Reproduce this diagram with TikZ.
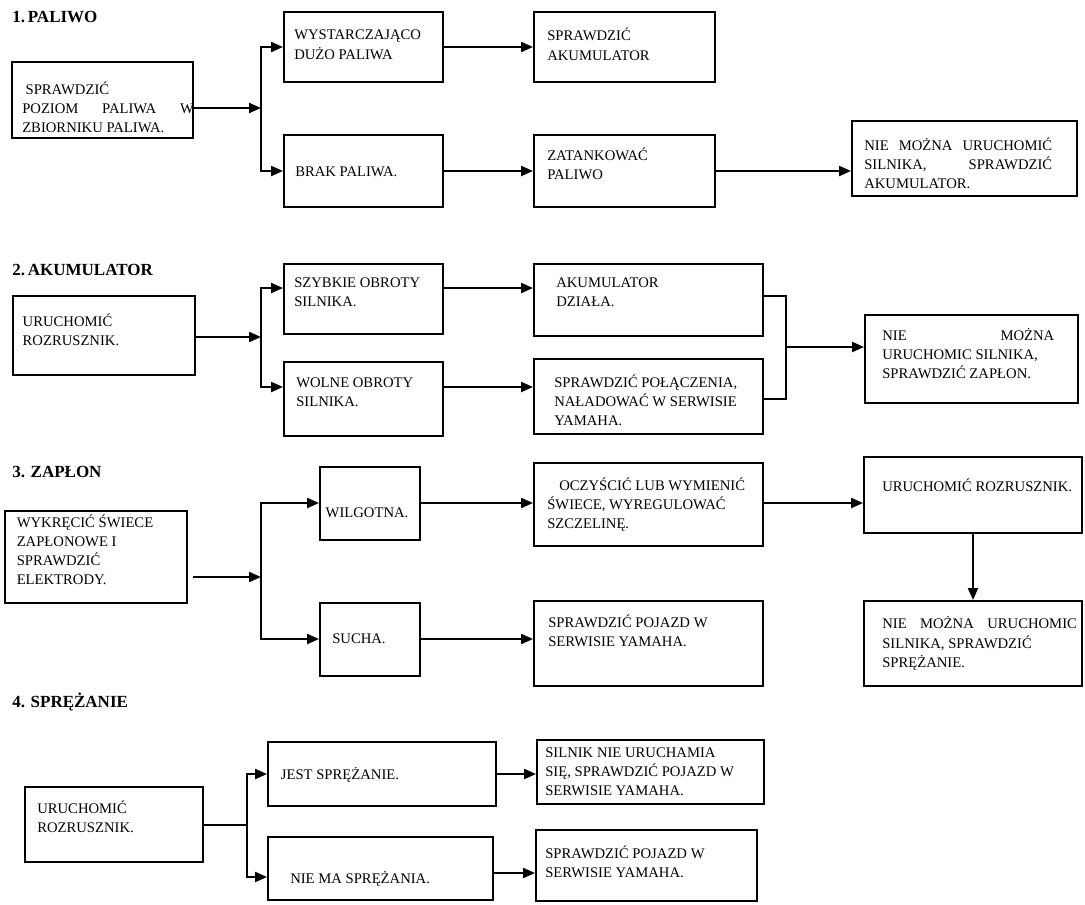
\documentclass[tikz,border=0pt]{standalone}
\usepackage{fontspec}
\setmainfont{Liberation Serif}
\usetikzlibrary{arrows.meta,fit}
\begin{document}
\begin{tikzpicture}[x=0.75pt,y=-0.75pt,
  box/.style={draw, line width=1.45pt, inner sep=0pt},
  txt/.style={anchor=north west, inner sep=0pt, align=left, font=\fontsize{11}{14.4}\selectfont, execute at begin node=\strut},
  ttl/.style={anchor=base west, inner sep=0pt, font=\bfseries\fontsize{12.75}{15}\selectfont},
  conn/.style={line width=1.6pt, -{Triangle[length=9pt,width=7.5pt]}},
  wire/.style={line width=1.6pt},
  thinwire/.style={line width=0.8pt}]
\useasboundingbox (0,0) rectangle (1085,904);
% ---------- 1. PALIWO ----------
\node[ttl] (T1) at (12,22) {1.\,PALIWO};
\node[box, fit={(12,62) (193,138)}] (A1) {};
\node[txt] (A1t) at (22,81.5) {\hspace*{2.5pt}SPRAWDZIĆ\\\hbox to 128.7pt{POZIOM\hfill PALIWA\hfill W}\\ZBIORNIKU PALIWA.};
\node[box, fit={(284,12) (443,82)}] (B1) {};
\node[txt] (B1t) at (294,30) {WYSTARCZAJĄCO\\DUŻO PALIWA};
\node[box, fit={(284,135) (443,207)}] (C1) {};
\node[txt] (C1t) at (295,162.5) {BRAK PALIWA.};
\node[box, fit={(534,12) (715,82)}] (D1) {};
\node[txt] (D1t) at (547,28) {SPRAWDZIĆ\\AKUMULATOR};
\node[box, fit={(534,135) (715,207)}] (E1) {};
\node[txt] (E1t) at (547,147.5) {ZATANKOWAĆ\\PALIWO};
\node[box, fit={(852,121) (1077,196)}] (F1) {};
\node[txt] (F1t) at (864,137.5) {\hbox to 141pt{NIE\hfill MOŻNA\hfill URUCHOMIĆ}\\\hbox to 141pt{SILNIKA,\hfill SPRAWDZIĆ}\\AKUMULATOR.};
\coordinate (J1) at (261,108);
\coordinate (J1t) at (261,47);
\draw[conn] (A1.east|-J1) -- (J1);
\draw[conn] (J1) |- (B1.west|-J1t);
\draw[conn] (J1) |- (C1.west);
\draw[conn] (B1.east|-J1t) -- (D1.west|-J1t);
\draw[conn] (C1.east) -- (E1.west);
\draw[conn] (E1.east) -- (F1.west|-E1.east);
% ---------- 2. AKUMULATOR ----------
\node[ttl] (T2) at (12,275) {2.\,AKUMULATOR};
\node[box, fit={(13,296) (195,375)}] (A2) {};
\node[txt] (A2t) at (22.4,313.5) {URUCHOMIĆ\\ROZRUSZNIK.};
\node[box, fit={(284,264) (443,334)}] (B2) {};
\node[txt] (B2t) at (294,277.5) {SZYBKIE OBROTY\\SILNIKA.};
\node[box, fit={(284,362) (443,436)}] (C2) {};
\node[txt] (C2t) at (296,377.5) {WOLNE OBROTY\\SILNIKA.};
\node[box, fit={(534,264) (763,336)}] (D2) {};
\node[txt] (D2t) at (556,277.5) {AKUMULATOR\\DZIAŁA.};
\node[box, fit={(534,359) (763,434)}] (E2) {};
\node[txt] (E2t) at (554,374.5) {SPRAWDZIĆ POŁĄCZENIA,\\NAŁADOWAĆ W SERWISIE\\YAMAHA.};
\node[box, fit={(865,315) (1078,403)}] (F2) {};
\node[txt] (F2t) at (882,328) {\hbox to 129pt{NIE\hfill MOŻNA}\\URUCHOMIC SILNIKA,\\SPRAWDZIĆ ZAPŁON.};
\coordinate (J2) at (261,337);
\coordinate (J2t) at (261,288);
\coordinate (J2b) at (261,387);
\draw[conn] (A2.east|-J2) -- (J2);
\draw[conn] (J2) |- (B2.west|-J2t);
\draw[conn] (J2) |- (C2.west|-J2b);
\draw[conn] (B2.east|-J2t) -- (D2.west|-J2t);
\draw[conn] (C2.east|-J2b) -- (E2.west|-J2b);
\coordinate (K2t) at (786,296);
\coordinate (K2b) at (786,399);
\coordinate (K2) at (786,347);
\draw[thinwire] (D2.east|-K2t) -- (K2t) -- (K2b) -- (E2.east|-K2b);
\draw[conn] (K2) -- (F2.west|-K2);
% ---------- 3. ZAPLON ----------
\node[ttl] (T3) at (12,477) {3. ZAPŁON};
\node[box, fit={(5,511) (187,603)}] (A3) {};
\node[txt] (A3t) at (16.5,514.5) {WYKRĘCIĆ ŚWIECE\\ZAPŁONOWE I\\SPRAWDZIĆ\\ELEKTRODY.};
\node[box, fit={(320,467) (420,540)}] (B3) {};
\node[txt] (B3t) at (325.4,503.5) {WILGOTNA.};
\node[box, fit={(320,603) (420,676)}] (C3) {};
\node[txt] (C3t) at (332,629.5) {SUCHA.};
\node[box, fit={(534,463) (763,546)}] (D3) {};
\node[txt] (D3t) at (547,477.5) {\hspace*{9pt}OCZYŚCIĆ LUB WYMIENIĆ\\ŚWIECE, WYREGULOWAĆ\\SZCZELINĘ.};
\node[box, fit={(534,601) (763,686)}] (E3) {};
\node[txt] (E3t) at (548,614.5) {SPRAWDZIĆ POJAZD W\\SERWISIE YAMAHA.};
\node[box, fit={(864,457) (1082,533)}] (G3) {};
\node[txt] (G3t) at (882,477.5) {URUCHOMIĆ ROZRUSZNIK.};
\node[box, fit={(864,601) (1082,686)}] (H3) {};
\node[txt] (H3t) at (882,616.5) {\hbox to 146pt{NIE\hfill MOŻNA\hfill URUCHOMIC}\\SILNIKA, SPRAWDZIĆ\\SPRĘŻANIE.};
\coordinate (S3) at (193,577);
\coordinate (J3) at (261,577);
\coordinate (J3t) at (261,503);
\coordinate (J3b) at (261,639);
\draw[conn] (S3) -- (J3);
\draw[conn] (J3) |- (B3.west|-J3t);
\draw[conn] (J3) |- (C3.west|-J3b);
\draw[conn] (B3.east|-J3t) -- (D3.west|-J3t);
\draw[conn] (C3.east|-J3b) -- (E3.west|-J3b);
\draw[conn] (D3.east|-J3t) -- (G3.west|-J3t);
\draw[conn] (G3.south) -- (H3.north);
% ---------- 4. SPREZANIE ----------
\node[ttl] (T4) at (12,707) {4. SPRĘŻANIE};
\node[box, fit={(25,787) (203,862)}] (A4) {};
\node[txt] (A4t) at (37,800.5) {URUCHOMIĆ\\ROZRUSZNIK.};
\node[box, fit={(268,742) (496,806)}] (B4) {};
\node[txt] (B4t) at (280.6,766) {JEST SPRĘŻANIE.};
\node[box, fit={(268,837) (493,900)}] (C4) {};
\node[txt] (C4t) at (290,869.5) {NIE MA SPRĘŻANIA.};
\node[box, fit={(537,740) (764,804)}] (D4) {};
\node[txt] (D4t) at (545,747.5) {SILNIK NIE URUCHAMIA\\SIĘ, SPRAWDZIĆ POJAZD W\\SERWISIE YAMAHA.};
\node[box, fit={(536,830) (757,901)}] (E4) {};
\node[txt] (E4t) at (545,845.5) {SPRAWDZIĆ POJAZD W\\SERWISIE YAMAHA.};
\coordinate (J4) at (247,825);
\coordinate (J4t) at (247,774);
\coordinate (J4b) at (247,877);
\coordinate (L4) at (500,873);
\draw[wire] (A4.east|-J4) -- (J4);
\draw[conn] (J4) |- (B4.west|-J4t);
\draw[conn] (J4) |- (C4.west|-J4b);
\draw[conn] (B4.east|-J4t) -- (D4.west|-J4t);
\draw[conn] (C4.east|-L4) -- (E4.west|-L4);
\end{tikzpicture}
\end{document}
